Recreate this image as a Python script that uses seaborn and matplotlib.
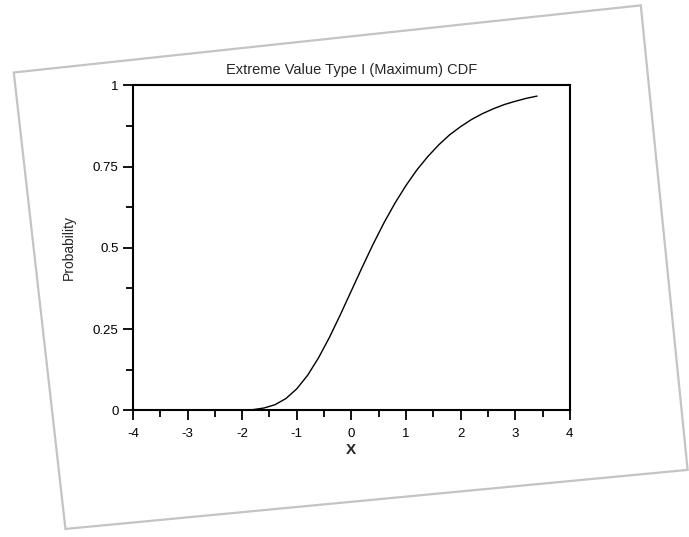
import numpy as np
import pandas as pd
import seaborn as sns
from matplotlib import pyplot as plt
from matplotlib.patches import Polygon
from matplotlib.ticker import AutoMinorLocator, FixedLocator

# values
x_vals = [-2.0, -1.8, -1.6, -1.4, -1.2, -1.0, -0.8, -0.6, -0.4, -0.2, 0.0,
          0.2, 0.4, 0.6, 0.8, 1.0, 1.2, 1.4, 1.6, 1.8, 2.0, 2.2, 2.4, 2.6,
          2.8, 3.0, 3.2, 3.4]
prob_vals = [0.001, 0.002, 0.007, 0.017, 0.036, 0.066, 0.108, 0.162, 0.225,
             0.295, 0.368, 0.441, 0.512, 0.578, 0.638, 0.692, 0.740, 0.781,
             0.817, 0.848, 0.873, 0.895, 0.913, 0.928, 0.941, 0.951, 0.960,
             0.967]
x_ticks = [-4, -3, -2, -1, 0, 1, 2, 3, 4]
y_ticks = [0, 0.25, 0.5, 0.75, 1]
y_tick_labels = ['0', '0.25', '0.5', '0.75', '1']

df = pd.DataFrame({'X': x_vals, 'Probability': prob_vals})

sns.set_style("ticks")
plt.rcParams['font.family'] = ['Liberation Sans', 'DejaVu Sans']
plt.rcParams['axes.unicode_minus'] = False

fig = plt.figure(figsize=(6.89, 5.37), dpi=100)

# card outline of the screenshot
card = Polygon([[0.02, 0.865], [0.93, 0.99], [0.998, 0.125], [0.095, 0.015]],
               closed=True, transform=fig.transFigure, facecolor='white',
               edgecolor='#c4c4c4', linewidth=1.6, zorder=-1)
fig.patches.append(card)

ax = fig.add_axes([0.193, 0.236, 0.634, 0.605])
ax.set_zorder(2)
sns.lineplot(data=df, x='X', y='Probability', ax=ax, color='black', linewidth=1.0)

ax.set_xlim(-4, 4)
ax.set_ylim(0, 1)
ax.xaxis.set_major_locator(FixedLocator(x_ticks))
ax.set_yticks(y_ticks)
ax.set_yticklabels(y_tick_labels)
ax.xaxis.set_minor_locator(AutoMinorLocator(2))
ax.yaxis.set_minor_locator(AutoMinorLocator(2))
ax.tick_params(which='both', direction='out', width=1.3, colors='black', labelsize=9.5)
ax.tick_params(which='major', length=7)
ax.tick_params(which='minor', length=5)
ax.tick_params(axis='x', which='major', pad=6)
for s in ax.spines.values():
    s.set_linewidth(1.5)
    s.set_color('black')

ax.set_xlabel('X', fontsize=11, fontweight='bold', labelpad=2)
ax.set_ylabel('Probability', fontsize=10, labelpad=12)
ax.set_title('Extreme Value Type I (Maximum) CDF', fontsize=10.5, pad=8)

fig.savefig('out.png', dpi=100)
